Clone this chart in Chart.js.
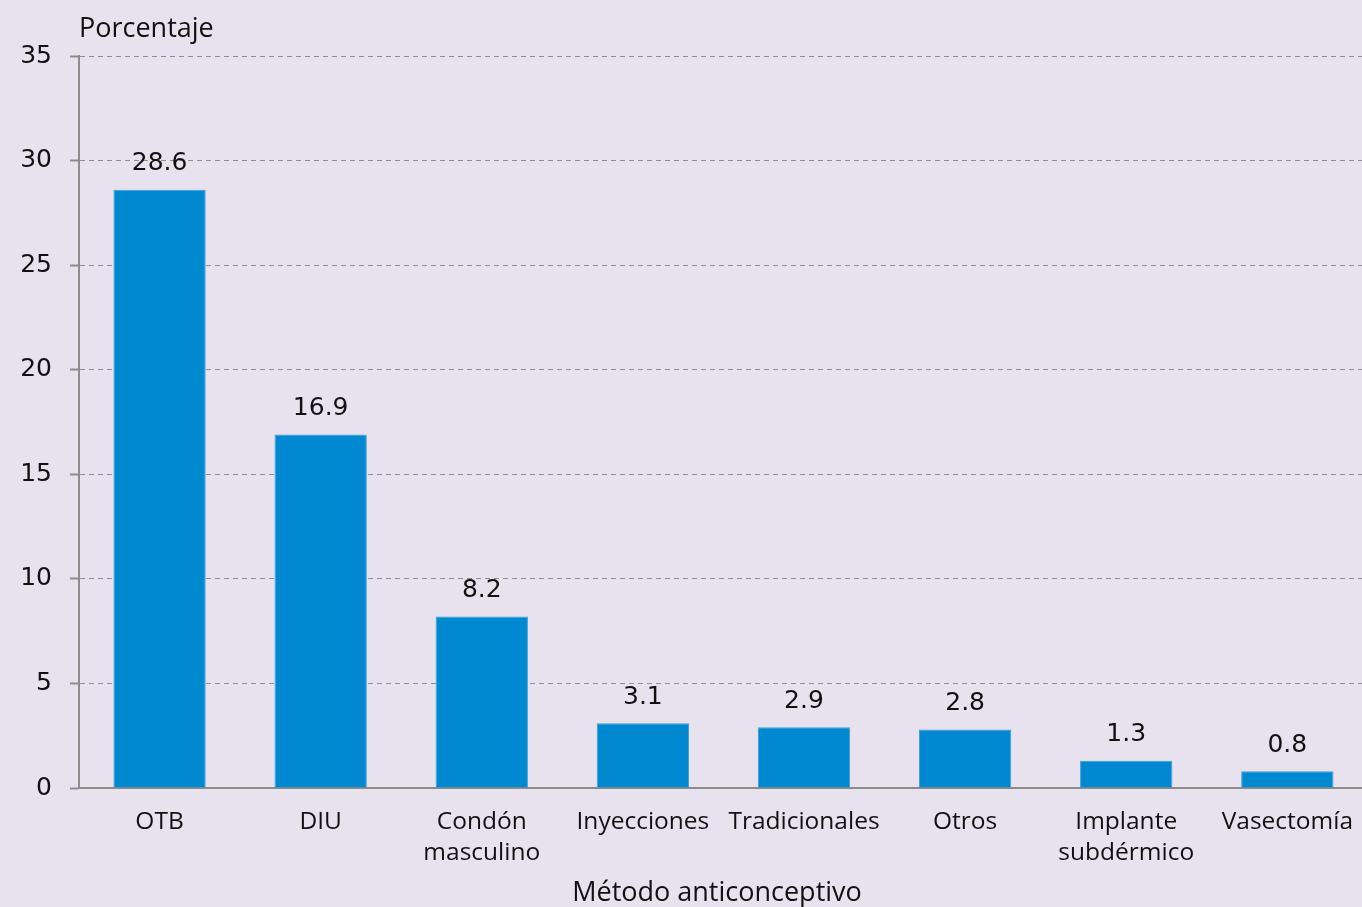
<!DOCTYPE html>
<html>
<head>
<meta charset="utf-8">
<script src="https://cdn.jsdelivr.net/npm/chart.js@4.4.1/dist/chart.umd.min.js"></script>
<style>
  html, body { margin: 0; padding: 0; background: #e8e1ee; overflow: hidden; }
  #wrap { width: 1371px; height: 907px; }
</style>
</head>
<body>
<div id="wrap"><canvas id="chart"></canvas></div>
<script>
const categorias = ['OTB', 'DIU', ['Condón', 'masculino'], 'Inyecciones', 'Tradicionales', 'Otros', ['Implante', 'subdérmico'], 'Vasectomía'];
const porcentajes = [28.6, 16.9, 8.2, 3.1, 2.9, 2.8, 1.3, 0.8];
const yTicks = [0, 5, 10, 15, 20, 25, 30, 35];

const FONT = "'Open Sans', 'Noto Sans', sans-serif";
const NUMFONT = "'DejaVu Sans', sans-serif";

/* ── etiquetas de valor y títulos ── */
const extras = {
  id: 'extras',
  afterDatasetsDraw(chart) {
    const ctx = chart.ctx;
    const meta = chart.getDatasetMeta(0);
    ctx.save();
    ctx.fillStyle = '#111';
    ctx.font = `25px ${NUMFONT}`;
    ctx.textAlign = 'center';
    ctx.textBaseline = 'middle';
    meta.data.forEach((bar, i) => {
      ctx.fillText(porcentajes[i].toFixed(1), bar.x, bar.y - 26);
    });
    ctx.font = `27px ${FONT}`;
    // título eje y
    ctx.textAlign = 'left';
    ctx.fillText('Porcentaje', chart.chartArea.left, 29);
    // título eje x
    ctx.textAlign = 'center';
    ctx.fillText('Método anticonceptivo', 717, chart.chartArea.bottom + 105);
    ctx.restore();
  }
};

new Chart(document.getElementById('chart'), {
  type: 'bar',
  data: {
    labels: categorias,
    datasets: [{
      data: porcentajes,
      backgroundColor: '#0088d1',
      borderColor: '#3a9fdb',
      borderWidth: 1,
      barPercentage: 0.573,
      categoryPercentage: 1
    }]
  },
  options: {
    responsive: true, maintainAspectRatio: false, animation: false,
    layout: { padding: { top: 56, right: 0, left: 0, bottom: 0 } },
    plugins: { legend: { display: false }, tooltip: { enabled: false } },
    scales: {
      x: {
        grid: { display: false, drawTicks: false },
        border: { display: true, color: '#8c8c8c', width: 2 },
        ticks: { color: '#111', font: { size: 24.5, family: FONT, lineHeight: 1.28 }, padding: 18, maxRotation: 0, autoSkip: false },
        afterFit(scale) { scale.height = 119; }
      },
      y: {
        min: 0, max: 35,
        afterBuildTicks(scale) { scale.ticks = yTicks.map(v => ({ value: v })); },
        grid: { color: '#8e8e8e', lineWidth: 1, tickLength: 9, tickColor: '#8c8c8c', tickBorderDash: [], tickWidth: 2 },
        border: { display: true, color: '#8c8c8c', width: 2, dash: [5, 4] },
        ticks: { color: '#111', font: { size: 25, family: NUMFONT }, padding: 18 },
        afterFit(scale) { scale.width = 79; }
      }
    }
  },
  plugins: [extras]
});
</script>
</body>
</html>
